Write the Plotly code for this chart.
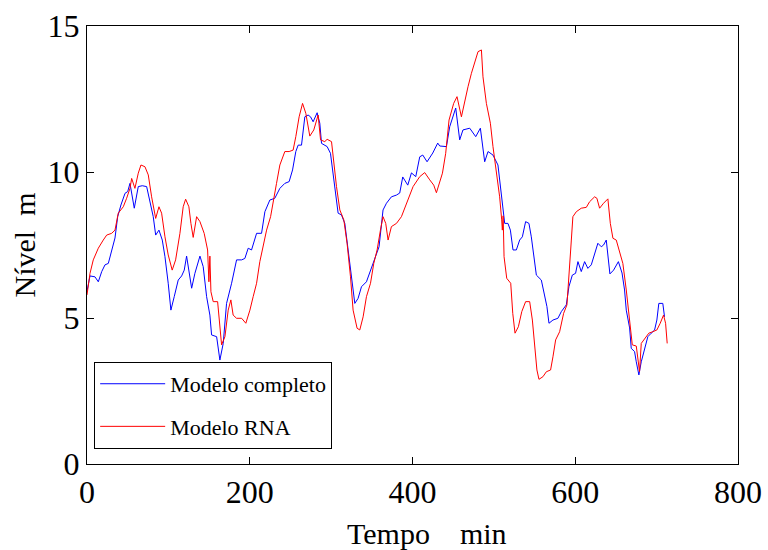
import plotly.graph_objects as go

# Modelo completo (blue)
t_completo = [0, 3.7, 9.8, 13.9, 18.1, 22.1, 26.2, 30.3, 34.4, 37.7, 41.7, 46.7, 50.0, 52.8, 58.1, 63.0, 67.9, 73.3,
              77.4, 81.4, 84.4, 88.4, 92.5, 95.8, 99.8, 103.1, 107.2, 112.1, 116.3, 119.5, 122.4, 125.2, 128.6, 132.6,
              138.8, 142.8, 147.0, 151.0, 153.1, 159.3, 163.3, 167.4, 171.5, 177.7, 183.8, 190.0, 194.0, 198.1, 202.2,
              208.4, 214.5, 218.6, 224.7, 230.8, 237.0, 243.1, 248.4, 252.6, 256.6, 259.5, 263.6, 267.7, 271.7, 274.7,
              277.9, 282.8, 286.1, 288.2, 295.1, 299.2, 302.4, 305.7, 308.6, 312.7, 316.8, 320.9, 325.0, 329.1, 333.1,
              337.3, 343.4, 348.4, 353.6, 358.9, 363.8, 368.0, 374.1, 380.3, 384.3, 388.0, 394.2, 398.7, 404.0, 408.9,
              412.6, 417.9, 424.9, 431.0, 433.5, 441.7, 445.7, 453.1, 458.0, 462.0, 470.3, 477.7, 483.4, 488.7, 492.8,
              498.9, 505.0, 509.2, 513.3, 517.3, 520.3, 523.5, 527.6, 531.7, 535.0, 539.0, 543.1, 546.0, 548.0, 552.2,
              558.3, 562.4, 565.2, 567.7, 572.6, 578.7, 582.9, 589.0, 592.2, 596.4, 600.4, 603.3, 607.4, 611.5, 615.5,
              619.7, 623.8, 627.8, 632.0, 634.8, 638.1, 642.6, 647.1, 653.0, 657.5, 660.6, 662.7, 666.8, 668.8, 672.9,
              675.0, 678.2, 681.1, 685.2, 689.2, 693.4, 697.5, 700.3, 702.7, 707.6, 709.7]
nivel_completo = [5.92, 6.44, 6.41, 6.24, 6.59, 6.82, 6.87, 7.33, 7.74, 8.47, 8.87, 9.27, 9.33, 9.61, 8.76, 9.50, 9.53,
                  9.50, 8.93, 8.47, 7.84, 8.01, 7.67, 7.10, 6.19, 5.27, 5.73, 6.30, 6.44, 6.64, 7.12, 6.64, 6.02, 6.53,
                  7.12, 6.76, 5.73, 5.10, 4.42, 4.36, 3.56, 4.13, 5.50, 6.19, 6.99, 6.99, 7.04, 7.39, 7.33, 7.90, 7.90,
                  8.64, 9.04, 9.10, 9.44, 9.61, 9.67, 10.07, 10.70, 10.92, 10.92, 11.89, 11.95, 11.89, 11.72, 12.03,
                  11.67, 10.98, 10.87, 10.64, 9.96, 9.38, 8.59, 8.53, 8.24, 7.33, 6.30, 5.50, 5.67, 6.07, 6.24, 6.64,
                  7.04, 7.44, 8.70, 8.93, 9.15, 9.21, 9.28, 9.83, 9.55, 9.97, 9.84, 10.52, 10.58, 10.35, 10.65, 10.99,
                  10.89, 10.87, 11.55, 12.19, 11.10, 11.44, 11.50, 11.21, 11.50, 10.35, 10.70, 10.58, 10.24, 9.27, 8.24,
                  8.24, 8.01, 7.33, 7.33, 7.67, 7.78, 8.30, 8.24, 7.78, 7.33, 6.47, 6.30, 5.73, 5.39, 4.82, 4.93, 4.99,
                  5.22, 5.45, 6.07, 6.47, 6.53, 6.93, 6.59, 6.93, 6.70, 6.82, 7.22, 7.56, 7.44, 7.50, 7.67, 6.51, 6.64,
                  6.93, 6.54, 5.96, 5.27, 4.66, 3.96, 3.85, 3.50, 3.05, 3.50, 3.96, 4.36, 4.48, 4.59, 4.93, 5.50, 5.50,
                  5.04]

# Modelo RNA (red)
t_rna = [0, 3.7, 7.7, 13.9, 20.0, 24.2, 30.3, 34.4, 38.4, 44.6, 48.7, 52.8, 54.9, 58.9, 63.0, 66.3, 71.2, 75.3, 79.4,
         84.4, 88.4, 91.7, 95.8, 99.8, 104.7, 108.9, 114.2, 118.2, 121.2, 125.2, 127.7, 130.5, 134.7, 138.8, 144.0,
         148.2, 149.8, 151.0, 152.3, 155.1, 160.5, 163.3, 165.4, 169.5, 173.5, 176.8, 179.6, 183.8, 190.0, 195.2,
         200.2, 204.2, 208.4, 212.4, 216.5, 220.7, 225.6, 229.6, 232.9, 237.0, 243.1, 248.4, 253.3, 256.6, 260.7,
         264.9, 268.9, 273.8, 278.7, 284.0, 287.0, 292.2, 295.1, 300.5, 303.3, 306.6, 310.7, 315.6, 319.6, 323.8,
         327.0, 331.9, 335.2, 339.3, 343.4, 348.4, 352.4, 356.5, 360.6, 363.8, 367.1, 370.0, 374.1, 380.3, 386.4,
         392.6, 400.7, 408.9, 415.0, 421.2, 426.1, 429.4, 432.6, 436.8, 440.8, 444.9, 450.6, 454.7, 460.1, 464.2,
         468.2, 472.4, 476.4, 480.5, 484.7, 486.6, 490.8, 495.7, 498.9, 503.1, 507.1, 509.6, 510.4, 511.4, 512.5,
         515.8, 520.7, 523.2, 526.0, 530.1, 534.3, 539.0, 544.0, 547.3, 550.1, 552.9, 555.4, 560.3, 564.5, 569.7,
         572.6, 575.9, 580.8, 585.7, 589.8, 592.2, 595.2, 597.1, 601.3, 607.4, 613.6, 617.6, 623.8, 626.6, 629.9,
         634.8, 640.1, 643.1, 646.3, 650.4, 654.5, 658.5, 662.7, 666.8, 670.1, 675.0, 677.0, 679.0, 681.1, 685.2,
         690.4, 695.3, 700.3, 704.4, 708.5, 711.0, 713.0]
nivel_rna = [5.79, 6.53, 6.99, 7.39, 7.67, 7.84, 7.90, 8.01, 8.59, 8.81, 9.10, 9.44, 9.78, 9.44, 9.96, 10.24, 10.18,
             9.90, 9.15, 8.41, 8.81, 8.59, 7.78, 7.16, 6.64, 6.99, 7.90, 8.81, 9.07, 8.81, 8.24, 7.76, 8.47, 8.30, 7.90,
             7.33, 6.24, 7.12, 5.90, 5.56, 5.56, 4.70, 4.08, 4.36, 5.27, 5.62, 5.10, 4.99, 4.99, 4.82, 5.27, 5.73,
             6.19, 6.93, 7.44, 8.01, 8.47, 9.15, 9.61, 10.24, 10.70, 10.70, 10.75, 11.21, 11.89, 12.35, 12.01, 11.23,
             11.44, 11.95, 11.10, 11.04, 11.12, 11.04, 10.30, 9.50, 8.70, 8.36, 7.56, 6.41, 5.27, 4.65, 4.59, 5.04,
             5.73, 6.19, 6.87, 7.33, 8.01, 8.47, 8.24, 7.67, 8.13, 8.24, 8.47, 8.93, 9.50, 9.84, 9.98, 9.73, 9.55,
             9.29, 9.55, 9.96, 10.64, 11.78, 12.35, 12.58, 11.89, 12.47, 12.92, 13.38, 13.72, 14.12, 14.18, 13.26,
             12.35, 11.67, 10.87, 10.07, 9.15, 8.36, 8.01, 8.50, 7.10, 6.36, 6.19, 5.16, 4.48, 4.70, 5.22, 5.56, 5.56,
             4.93, 4.02, 3.22, 2.90, 2.99, 3.16, 3.22, 3.67, 4.25, 4.53, 5.16, 5.45, 6.30, 7.67, 8.47, 8.64, 8.76,
             8.79, 8.98, 9.15, 9.10, 8.76, 8.93, 9.08, 8.24, 7.73, 7.67, 7.27, 6.87, 5.96, 4.93, 4.08, 4.04, 3.56,
             3.16, 4.13, 4.30, 4.48, 4.53, 4.59, 4.82, 5.10, 4.82, 4.13]

x_ticks = [0, 200, 400, 600, 800]
y_ticks = [0, 5, 10, 15]

FONT = "Liberation Serif"
NB = "\u00a0"

fig = go.Figure()
fig.add_trace(go.Scatter(x=t_completo, y=nivel_completo, mode="lines", name="Modelo completo",
                         line=dict(color="#0000FF", width=1), legendgroup="a"))
fig.add_trace(go.Scatter(x=t_rna, y=nivel_rna, mode="lines", name="Modelo RNA",
                         line=dict(color="#FF0000", width=1), legendgroup="b"))

axis_common = dict(showgrid=False, zeroline=False, showline=True, linecolor="black", linewidth=1,
                   mirror="ticks", ticks="inside", ticklen=7, tickcolor="black", tickwidth=1,
                   automargin=False,
                   tickfont=dict(family=FONT, size=32, color="black"))

fig.update_layout(
    width=768, height=550,
    margin=dict(l=87, r=30, t=26, b=86),
    paper_bgcolor="white", plot_bgcolor="white",
    xaxis=dict(range=[0, 800], tickvals=x_ticks, ticktext=[str(v) for v in x_ticks], **axis_common),
    yaxis=dict(range=[0, 15], tickvals=y_ticks, ticktext=[str(v) for v in y_ticks],
               title=dict(text="Nível" + NB * 2 + "m", font=dict(family=FONT, size=30, color="black"),
                          standoff=3),
               **axis_common),
    legend=dict(x=0.011, y=0.233, xanchor="left", yanchor="top",
                bgcolor="white", bordercolor="black", borderwidth=1,
                font=dict(family=FONT, size=22, color="black"),
                itemwidth=65, tracegroupgap=11, traceorder="grouped"),
    showlegend=True,
)

# x-axis title, placed as in the reference (slightly right of centre)
fig.add_annotation(text="Tempo" + NB * 4 + "min", xref="paper", yref="paper", x=0.5226, y=0,
                   xanchor="center", yanchor="middle", yshift=-69, showarrow=False,
                   font=dict(family=FONT, size=30, color="black"))

fig.write_html("out.html")
